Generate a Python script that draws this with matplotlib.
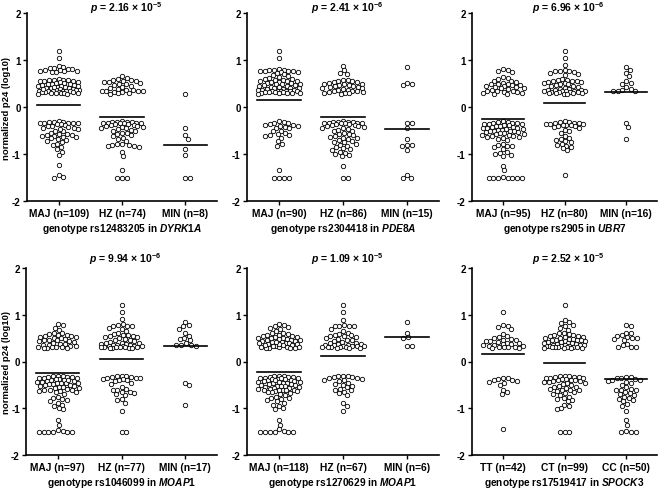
import numpy as np
import matplotlib
matplotlib.use('Agg')
import matplotlib.pyplot as plt

plt.rcParams['font.family'] = ['Liberation Sans', 'DejaVu Sans']
plt.rcParams['font.weight'] = 'bold'
plt.rcParams['mathtext.fontset'] = 'custom'
plt.rcParams['mathtext.rm'] = 'Liberation Sans:bold'
plt.rcParams['mathtext.it'] = 'Liberation Sans:italic:bold'
plt.rcParams['mathtext.bf'] = 'Liberation Sans:bold'

# ---------------- data ----------------
titles = [r"$\mathit{p}$ = 2.16 × 10$^{-5}$", r"$\mathit{p}$ = 2.41 × 10$^{-6}$",
          r"$\mathit{p}$ = 6.96 × 10$^{-6}$", r"$\mathit{p}$ = 9.94 × 10$^{-6}$",
          r"$\mathit{p}$ = 1.09 × 10$^{-5}$", r"$\mathit{p}$ = 2.52 × 10$^{-5}$"]
xlabels = [r"genotype rs12483205 in $\mathit{DYRK1A}$", r"genotype rs2304418 in $\mathit{PDE8A}$",
           r"genotype rs2905 in $\mathit{UBR7}$", r"genotype rs1046099 in $\mathit{MOAP1}$",
           r"genotype rs1270629 in $\mathit{MOAP1}$", r"genotype rs17519417 in $\mathit{SPOCK3}$"]
cat_labels = [["MAJ (n=109)", "HZ (n=74)", "MIN (n=8)"],
              ["MAJ (n=90)", "HZ (n=86)", "MIN (n=15)"],
              ["MAJ (n=95)", "HZ (n=80)", "MIN (n=16)"],
              ["MAJ (n=97)", "HZ (n=77)", "MIN (n=17)"],
              ["MAJ (n=118)", "HZ (n=67)", "MIN (n=6)"],
              ["TT (n=42)", "CT (n=99)", "CC (n=50)"]]
ytick_vals = [-2, -1, 0, 1, 2]
means = [[0.05, -0.21, -0.81],
         [0.14, -0.22, -0.47],
         [-0.26, 0.08, 0.32],
         [-0.25, 0.06, 0.33],
         [-0.22, 0.12, 0.52],
         [0.17, -0.04, -0.37]]

# Panel 1
p1_maj = [1.20, 1.05, 0.88, 0.85, 0.82, 0.80, 0.79, 0.78, 0.77, 0.76, 0.76, 0.75, 0.74, 0.84, 0.81,
          0.57, 0.55, 0.58, 0.60, 0.58, 0.57, 0.56, 0.55, 0.54, 0.53, 0.52, 0.51, 0.50, 0.49, 0.48,
          0.47, 0.46, 0.45, 0.44, 0.43, 0.42, 0.41, 0.40, 0.40, 0.39, 0.38, 0.37, 0.36, 0.36, 0.35,
          0.35, 0.34, 0.34, 0.33, 0.33, 0.32, 0.32, 0.31, 0.31, 0.30, 0.30, 0.30, 0.29, 0.29, 0.28,
          0.28, 0.38, 0.42, 0.45,
          -0.30, -0.31, -0.32, -0.32, -0.33, -0.34, -0.35, -0.35, -0.36, -0.37, -0.38, -0.40, -0.42,
          -0.44, -0.45, -0.47, -0.50, -0.52, -0.55, -0.57, -0.58, -0.60, -0.60, -0.62, -0.62, -0.63,
          -0.64, -0.65, -0.68, -0.70, -0.72, -0.75, -0.78, -0.80, -0.85, -0.90, -0.95, -1.03, -1.23,
          -1.45, -1.50, -1.48, -0.34, -0.40, -0.46]
p1_hz = [0.65, 0.62, 0.60, 0.58, 0.57, 0.56, 0.55, 0.54, 0.53, 0.52, 0.50, 0.48, 0.46, 0.45, 0.42,
         0.40, 0.38, 0.37, 0.36, 0.35, 0.34, 0.33, 0.33, 0.32, 0.31, 0.30, 0.29, 0.28,
         -0.30, -0.31, -0.31, -0.32, -0.32, -0.33, -0.33, -0.34, -0.34, -0.35, -0.35, -0.36, -0.37,
         -0.38, -0.39, -0.40, -0.41, -0.42, -0.43, -0.44, -0.45, -0.47, -0.50, -0.52, -0.55, -0.58,
         -0.60, -0.62, -0.65, -0.68, -0.72, -0.78, -0.80, -0.80, -0.82, -0.83, -0.85, -0.78, -0.95,
         -1.05, -1.35, -1.50, -1.50, -1.50, -0.48, -0.56]
p1_min = [0.28, -0.45, -0.60, -0.68, -0.90, -1.02, -1.50, -1.50]

# Panel 2
p2_maj = [1.20, 1.05, 0.80, 0.79, 0.78, 0.78, 0.77, 0.77, 0.76, 0.76, 0.75, 0.75, 0.73, 0.70, 0.68,
          0.65, 0.63, 0.62, 0.60, 0.60, 0.58, 0.57, 0.56, 0.55, 0.55, 0.54, 0.53, 0.52, 0.51, 0.50,
          0.49, 0.48, 0.47, 0.46, 0.45, 0.44, 0.43, 0.42, 0.41, 0.40, 0.40, 0.39, 0.38, 0.37, 0.36,
          0.36, 0.35, 0.35, 0.34, 0.34, 0.33, 0.33, 0.32, 0.32, 0.31, 0.31, 0.30, 0.30, 0.30, 0.29,
          0.29, 0.28,
          -0.30, -0.32, -0.33, -0.35, -0.36, -0.38, -0.38, -0.40, -0.40, -0.42, -0.44, -0.45, -0.50,
          -0.52, -0.55, -0.58, -0.60, -0.60, -0.62, -0.65, -0.72, -0.78, -0.82, -1.35, -1.50, -1.50,
          -1.50, -1.50]
p2_hz = [0.88, 0.78, 0.72, 0.70, 0.58, 0.57, 0.56, 0.55, 0.54, 0.53, 0.52, 0.50, 0.49, 0.48, 0.47,
         0.46, 0.45, 0.44, 0.43, 0.42, 0.41, 0.40, 0.38, 0.37, 0.36, 0.35, 0.34, 0.33, 0.32, 0.31,
         0.30, 0.30, 0.29, 0.28,
         -0.30, -0.31, -0.31, -0.32, -0.32, -0.33, -0.33, -0.34, -0.34, -0.35, -0.35, -0.36, -0.37,
         -0.38, -0.39, -0.40, -0.41, -0.42, -0.44, -0.45, -0.47, -0.50, -0.52, -0.55, -0.57, -0.60,
         -0.62, -0.63, -0.65, -0.68, -0.70, -0.72, -0.75, -0.78, -0.80, -0.82, -0.85, -0.88, -0.90,
         -0.92, -0.95, -0.97, -1.00, -1.02, -1.05, -1.25, -1.50, -1.50, -0.48, -0.58, -0.66, -0.74]
p2_min = [0.85, 0.52, 0.50, 0.46, -0.33, -0.33, -0.45, -0.68, -0.80, -0.80, -0.82, -0.92, -1.45,
          -1.50, -1.50]

# Panel 3
p3_maj = [0.80, 0.78, 0.76, 0.74, 0.63, 0.62, 0.60, 0.56, 0.55, 0.54, 0.52, 0.50, 0.49, 0.48, 0.47,
          0.46, 0.45, 0.44, 0.42, 0.41, 0.40, 0.38, 0.36, 0.35, 0.34, 0.33, 0.32, 0.31, 0.30, 0.29,
          0.28, 0.28, 0.43,
          -0.30, -0.31, -0.32, -0.33, -0.34, -0.35, -0.36, -0.37, -0.38, -0.39, -0.40, -0.41, -0.42,
          -0.43, -0.44, -0.45, -0.46, -0.47, -0.48, -0.49, -0.50, -0.51, -0.52, -0.53, -0.54, -0.55,
          -0.56, -0.57, -0.58, -0.60, -0.61, -0.62, -0.63, -0.64, -0.65, -0.68, -0.70, -0.78, -0.80,
          -0.82, -0.84, -0.86, -0.90, -0.95, -0.98, -1.00, -1.02, -1.05, -1.25, -1.35, -1.50, -1.50,
          -1.50, -1.50, -1.50, -1.50, -1.50, -1.48, -0.36, -0.44, -0.52, -0.60]
p3_hz = [1.20, 1.05, 0.90, 0.78, 0.77, 0.76, 0.76, 0.75, 0.73, 0.70, 0.68, 0.60, 0.58, 0.57, 0.56,
         0.55, 0.55, 0.54, 0.53, 0.52, 0.51, 0.50, 0.48, 0.46, 0.45, 0.44, 0.42, 0.40, 0.39, 0.38,
         0.37, 0.36, 0.36, 0.35, 0.34, 0.34, 0.33, 0.33, 0.32, 0.32, 0.31, 0.31, 0.30, 0.30, 0.29,
         0.29, 0.28, 0.28,
         -0.30, -0.31, -0.32, -0.33, -0.34, -0.35, -0.36, -0.37, -0.38, -0.39, -0.40, -0.40, -0.42,
         -0.44, -0.48, -0.50, -0.55, -0.62, -0.65, -0.68, -0.70, -0.72, -0.74, -0.78, -0.80, -0.82,
         -0.85, -0.88, -0.92, -1.45, -0.36, -0.38]
p3_min = [0.85, 0.78, 0.72, 0.65, 0.55, 0.52, 0.50, 0.42, 0.38, 0.36, 0.35, 0.34, 0.33, -0.33,
          -0.42, -0.68]

# Panel 4
p4_maj = [0.80, 0.78, 0.72, 0.68, 0.62, 0.60, 0.58, 0.57, 0.56, 0.55, 0.54, 0.53, 0.52, 0.51, 0.50,
          0.48, 0.47, 0.46, 0.45, 0.44, 0.42, 0.40, 0.38, 0.37, 0.36, 0.35, 0.34, 0.33, 0.32, 0.31,
          0.30, 0.30, 0.29, 0.28, 0.28, 0.43,
          -0.30, -0.31, -0.32, -0.33, -0.34, -0.35, -0.36, -0.37, -0.38, -0.39, -0.40, -0.41, -0.42,
          -0.43, -0.44, -0.45, -0.46, -0.47, -0.48, -0.49, -0.50, -0.51, -0.52, -0.53, -0.54, -0.55,
          -0.56, -0.57, -0.58, -0.60, -0.61, -0.62, -0.63, -0.64, -0.66, -0.70, -0.75, -0.78, -0.80,
          -0.82, -0.85, -0.88, -0.92, -0.95, -1.00, -1.02, -1.25, -1.35, -1.48, -1.50, -1.50, -1.50,
          -1.50, -1.50, -1.50, -1.47, -0.33, -0.36, -0.40, -0.45, -0.65]
p4_hz = [1.20, 1.05, 0.90, 0.80, 0.78, 0.77, 0.76, 0.75, 0.72, 0.70, 0.65, 0.62, 0.58, 0.57, 0.56,
         0.55, 0.54, 0.53, 0.52, 0.50, 0.48, 0.46, 0.45, 0.44, 0.42, 0.40, 0.39, 0.38, 0.37, 0.36,
         0.36, 0.35, 0.34, 0.34, 0.33, 0.33, 0.32, 0.32, 0.31, 0.31, 0.30, 0.30, 0.29, 0.29, 0.28,
         0.28, 0.40,
         -0.30, -0.31, -0.32, -0.33, -0.34, -0.35, -0.36, -0.37, -0.38, -0.40, -0.42, -0.45, -0.48,
         -0.55, -0.58, -0.62, -0.65, -0.68, -0.70, -0.72, -0.80, -0.82, -0.88, -1.05, -1.50, -1.50,
         -0.35, -0.40, -0.60, -0.66]
p4_min = [0.85, 0.78, 0.76, 0.70, 0.62, 0.55, 0.50, 0.48, 0.45, 0.40, 0.36, 0.35, 0.35, 0.34,
          -0.45, -0.50, -0.92]

# Panel 5
p5_maj = [0.80, 0.78, 0.76, 0.74, 0.72, 0.70, 0.65, 0.62, 0.60, 0.58, 0.57, 0.56, 0.55, 0.54, 0.53,
          0.52, 0.51, 0.50, 0.49, 0.48, 0.47, 0.46, 0.45, 0.44, 0.43, 0.42, 0.41, 0.40, 0.40, 0.39,
          0.38, 0.37, 0.36, 0.35, 0.34, 0.33, 0.32, 0.31, 0.30, 0.30, 0.29, 0.29, 0.28, 0.28, 0.38,
          0.42, 0.50, 0.36,
          -0.30, -0.31, -0.32, -0.33, -0.34, -0.35, -0.36, -0.37, -0.38, -0.39, -0.40, -0.41, -0.42,
          -0.43, -0.44, -0.45, -0.46, -0.47, -0.48, -0.49, -0.50, -0.51, -0.52, -0.53, -0.54, -0.55,
          -0.56, -0.57, -0.58, -0.59, -0.60, -0.61, -0.62, -0.63, -0.64, -0.65, -0.66, -0.68, -0.70,
          -0.72, -0.75, -0.78, -0.80, -0.82, -0.85, -0.88, -0.92, -0.95, -1.00, -1.02, -1.25, -1.35,
          -1.45, -1.50, -1.50, -1.50, -1.50, -1.50, -1.50, -1.48, -0.33, -0.35, -0.38, -0.40, -0.44,
          -0.36, -0.52, -0.60, -0.62, -0.78]
p5_hz = [1.20, 1.05, 0.88, 0.78, 0.77, 0.76, 0.76, 0.75, 0.70, 0.65, 0.62, 0.58, 0.57, 0.56, 0.55,
         0.54, 0.52, 0.50, 0.48, 0.46, 0.45, 0.44, 0.42, 0.40, 0.39, 0.38, 0.37, 0.36, 0.36, 0.35,
         0.34, 0.34, 0.33, 0.33, 0.32, 0.32, 0.31, 0.30, 0.30, 0.29, 0.28, 0.28,
         -0.30, -0.31, -0.32, -0.33, -0.34, -0.35, -0.36, -0.38, -0.40, -0.42, -0.45, -0.48, -0.50,
         -0.55, -0.58, -0.60, -0.62, -0.65, -0.68, -0.72, -0.88, -0.95, -1.05, -0.40, -0.52]
p5_min = [0.85, 0.62, 0.52, 0.50, 0.34, 0.34]

# Panel 6
p6_tt = [1.05, 0.78, 0.76, 0.74, 0.70, 0.58, 0.55, 0.52, 0.50, 0.48, 0.47, 0.45, 0.44, 0.42, 0.40,
         0.39, 0.38, 0.37, 0.36, 0.35, 0.34, 0.33, 0.32, 0.31, 0.30, 0.30, 0.29, 0.28, 0.43,
         -0.35, -0.36, -0.38, -0.40, -0.40, -0.42, -0.43, -0.45, -0.50, -0.60, -0.65, -0.70, -1.45]
p6_ct = [1.20, 0.88, 0.85, 0.82, 0.78, 0.76, 0.72, 0.68, 0.62, 0.60, 0.58, 0.57, 0.56, 0.55, 0.54,
         0.53, 0.52, 0.51, 0.50, 0.49, 0.48, 0.47, 0.46, 0.45, 0.44, 0.43, 0.42, 0.41, 0.40, 0.39,
         0.38, 0.37, 0.36, 0.36, 0.35, 0.35, 0.34, 0.34, 0.33, 0.33, 0.32, 0.32, 0.31, 0.31, 0.30,
         0.30, 0.29, 0.29, 0.28, 0.28, 0.40, 0.45,
         -0.30, -0.31, -0.32, -0.33, -0.34, -0.35, -0.36, -0.37, -0.38, -0.39, -0.40, -0.41, -0.42,
         -0.43, -0.44, -0.45, -0.46, -0.48, -0.50, -0.52, -0.55, -0.57, -0.58, -0.60, -0.62, -0.64,
         -0.66, -0.68, -0.70, -0.72, -0.75, -0.78, -0.80, -0.82, -0.85, -0.92, -0.95, -1.00, -1.02,
         -1.50, -1.50, -1.50, -0.33, -0.36, -0.40, -0.55, -0.62]
p6_cc = [0.78, 0.75, 0.62, 0.60, 0.57, 0.55, 0.52, 0.50, 0.50, 0.48, 0.45, 0.38, 0.35, 0.32, 0.30,
         0.30,
         -0.33, -0.34, -0.35, -0.36, -0.38, -0.40, -0.42, -0.44, -0.46, -0.50, -0.55, -0.58, -0.60,
         -0.62, -0.65, -0.68, -0.70, -0.72, -0.75, -0.78, -0.80, -0.82, -0.85, -0.90, -0.95, -1.05,
         -1.25, -1.35, -1.50, -1.50, -1.50, -1.48, -0.40, -0.60]

panels = [[p1_maj, p1_hz, p1_min], [p2_maj, p2_hz, p2_min], [p3_maj, p3_hz, p3_min],
          [p4_maj, p4_hz, p4_min], [p5_maj, p5_hz, p5_min], [p6_tt, p6_ct, p6_cc]]

# ---------------- layout ----------------
W, H = 662, 489
fig = plt.figure(figsize=(W / 100, H / 100), dpi=100)

# (left, right, top, bottom) in pixels
boxes = [(27, 217, 14, 202), (247, 439, 14, 202), (472, 657, 14, 202),
         (26, 217, 269, 456), (247, 439, 269, 456), (472, 657, 269, 456)]
title_y = [1.008, 1.008, 1.008, 1.03, 1.03, 1.03]

D_PX = 4.8      # preferred centre distance (pixels)
LIMIT_PX = 21   # maximal half-width of a swarm (pixels)


def swarm(vals, ppu_x, ppu_y):
    ys = np.asarray(vals, dtype=float) * ppu_y
    order = np.argsort(-ys, kind='stable')
    placed = []
    xs = np.zeros(len(ys))
    for i in order:
        y = ys[i]
        chosen = None
        for d in (D_PX, 0.85 * D_PX, 0.72 * D_PX, 0.6 * D_PX, 0.5 * D_PX, 0.4 * D_PX):
            cands = [0.0]
            for (px, py) in placed:
                dy = abs(py - y)
                if dy < d:
                    dx = np.sqrt(d ** 2 - dy ** 2)
                    cands += [px + dx, px - dx]
            cands.sort(key=lambda c: (abs(c), -c))
            for c in cands:
                if abs(c) > LIMIT_PX:
                    break
                if all((c - px) ** 2 + (y - py) ** 2 >= d ** 2 - 1e-6 for px, py in placed):
                    chosen = c
                    break
            if chosen is not None:
                break
        if chosen is None:
            chosen = 0.0
        xs[i] = chosen
        placed.append((chosen, y))
    return xs / ppu_x


for k in range(6):
    l, r, t, b = boxes[k]
    ax = fig.add_axes([l / W, 1 - b / H, (r - l) / W, (b - t) / H])
    ax.set_xlim(-0.5, 2.5)
    ax.set_ylim(-2, 2)
    ppu_x = (r - l) / 3.0
    ppu_y = (b - t) / 4.0
    for j, vals in enumerate(panels[k]):
        off = swarm(vals, ppu_x, ppu_y)
        ax.scatter(j + off, vals, s=10, facecolors='white', edgecolors='black',
                   linewidths=0.6, zorder=3, clip_on=False)
        ax.plot([j - 0.34, j + 0.34], [means[k][j]] * 2, color='black', lw=1.2, zorder=4)
    ax.spines['top'].set_visible(False)
    ax.spines['right'].set_visible(False)
    ax.spines['left'].set_linewidth(1.2)
    ax.spines['bottom'].set_linewidth(1.2)
    ax.set_yticks(ytick_vals)
    ax.set_yticklabels([str(v) for v in ytick_vals])
    ax.set_xticks([0, 1, 2])
    ax.set_xticklabels(cat_labels[k])
    ax.tick_params(axis='x', labelsize=7.4, width=1.0, length=3, pad=2)
    ax.tick_params(axis='y', labelsize=7.0, width=1.0, length=3, pad=1.5)
    for lab in ax.get_xticklabels() + ax.get_yticklabels():
        lab.set_fontweight('bold')
    ax.set_xlabel(xlabels[k], fontsize=7.3, fontweight='bold', labelpad=2)
    if k % 3 == 0:
        ax.set_ylabel('normalized p24 (log10)', fontsize=6.8, fontweight='bold')
        ax.yaxis.set_label_coords(-(l - 11) / (r - l), 0.5)
    ax.text(0.52, title_y[k], titles[k], transform=ax.transAxes, ha='center', va='baseline',
            fontsize=7.5, fontweight='bold')

fig.savefig('out.png', dpi=100)
